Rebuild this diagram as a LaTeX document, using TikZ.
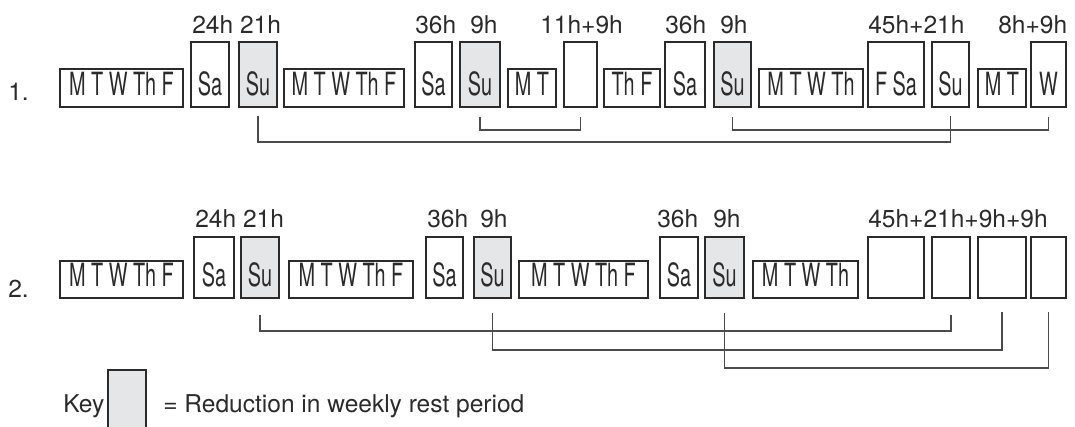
\documentclass[tikz,border=0pt]{standalone}
\usepackage{fontspec}
\setmainfont{TeX Gyre Heros}
\newfontfamily\condfont{TeX Gyre Heros}[FakeStretch=0.62]
\usetikzlibrary{calc}
\definecolor{reduced}{HTML}{E5E6E8}
\definecolor{ink}{HTML}{2B2B2B}

% one day block: name, left, right, top, bottom, style, text
\newcommand\dbox[7]{%
  \node[#6, minimum width={(#3-#2)*0.75pt}, minimum height={(#5-#4)*0.75pt},
        anchor=north west] (#1) at (#2,#4) {};
  \node[daytext] (#1t) at ($(#1.south)+(0,-12)$) {#7};
}

\begin{document}
\begin{tikzpicture}[x=0.75pt,y=-0.75pt,
  daybox/.style={draw=ink, line width=0.8pt, inner sep=0pt, outer sep=0pt},
  reducedbox/.style={daybox, fill=reduced},
  daytext/.style={font=\condfont\fontsize{24}{27}\selectfont, inner sep=0pt,
                  anchor=base, text=ink},
  hours/.style={font=\fontsize{18.4}{22}\selectfont, inner sep=0pt,
                anchor=base west, text=ink},
  bracket/.style={draw=ink!85, line width=0.9pt},
]
\useasboundingbox (0,0) rectangle (1075,426);

% ---------- schedule 1 ----------
\node[hours] (n1) at (8,100) {1.};
\dbox{a1}{60}{183}{69}{107}{daybox}{M T W Th F}
\dbox{a2}{191}{229}{42}{107}{daybox}{Sa}
\dbox{a3}{239}{277}{42}{107}{reducedbox}{Su}
\dbox{a4}{284}{404}{69}{107}{daybox}{M T W Th F}
\dbox{a5}{415}{452}{42}{107}{daybox}{Sa}
\dbox{a6}{460}{500}{42}{107}{reducedbox}{Su}
\dbox{a7}{508}{556}{69}{107}{daybox}{M T}
\dbox{a8}{564}{597}{42}{107}{daybox}{}
\dbox{a9}{604}{660}{69}{107}{daybox}{Th F}
\dbox{a10}{665}{705}{42}{107}{daybox}{Sa}
\dbox{a11}{714}{751}{42}{107}{reducedbox}{Su}
\dbox{a12}{759}{863}{69}{107}{daybox}{M T W Th}
\dbox{a13}{868}{924}{42}{107}{daybox}{F Sa}
\dbox{a14}{932}{969}{42}{107}{daybox}{Su}
\dbox{a15}{978}{1026}{69}{107}{daybox}{M T}
\dbox{a16}{1031}{1066}{42}{107}{daybox}{W}

\node[hours] (ha1) at (192,33) {24h 21h};
\node[hours] (ha2) at (415,33) {36h};
\node[hours] (ha3) at (470,33) {9h};
\node[hours] (ha4) at (540,33) {11h+9h};
\node[hours] (ha5) at (665,33) {36h};
\node[hours] (ha6) at (720,33) {9h};
\node[hours] (ha7) at (868,33) {45h+21h};
\node[hours] (ha8) at (998,33) {8h+9h};

\draw[bracket] ($(a3.south)+(0,9)$) |- ($(a14.south)+(0,35)$) -- ($(a14.south)+(0,9)$);
\draw[bracket] ($(a6.south)+(0,10)$) |- ($(a8.south)+(0,23)$) -- ($(a8.south)+(0,10)$);
\draw[bracket] ($(a11.south)+(0,10)$) |- ($(a16.south)+(0,23)$) -- ($(a16.south)+(0,10)$);

% ---------- schedule 2 ----------
\node[hours] (n2) at (8,297) {2.};
\dbox{b1}{60}{183}{261}{298}{daybox}{M T W Th F}
\dbox{b2}{194}{234}{237}{298}{daybox}{Sa}
\dbox{b3}{241}{279}{237}{298}{reducedbox}{Su}
\dbox{b4}{289}{413}{261}{298}{daybox}{M T W Th F}
\dbox{b5}{426}{463}{237}{298}{daybox}{Sa}
\dbox{b6}{474}{511}{237}{298}{reducedbox}{Su}
\dbox{b7}{519}{648}{261}{298}{daybox}{M T W Th F}
\dbox{b8}{660}{698}{237}{298}{daybox}{Sa}
\dbox{b9}{705}{744}{237}{298}{reducedbox}{Su}
\dbox{b10}{753}{858}{261}{298}{daybox}{M T W Th}
\dbox{b11}{868}{924}{237}{298}{daybox}{}
\dbox{b12}{932}{970}{237}{298}{daybox}{}
\dbox{b13}{978}{1026}{237}{298}{daybox}{}
\dbox{b14}{1031}{1066}{237}{298}{daybox}{}

\node[hours] (hb1) at (195,227) {24h 21h};
\node[hours] (hb2) at (427,227) {36h};
\node[hours] (hb3) at (480,227) {9h};
\node[hours] (hb4) at (657,227) {36h};
\node[hours] (hb5) at (713,227) {9h};
\node[hours] (hb6) at (868,227) {45h+21h+9h+9h};

\draw[bracket] ($(b3.south)+(0,17)$) |- ($(b12.south)+(0,33)$) -- ($(b12.south)+(0,17)$);
\draw[bracket] ($(b6.south)+(0,15)$) |- ($(b13.south)+(0,52)$) -- ($(b13.south)+(0,14)$);
\draw[bracket] ($(b9.south)+(0,15)$) |- ($(b14.south)+(0,70)$) -- ($(b14.south)+(0,14)$);

% ---------- key ----------
\node[hours] (keyword) at (63,412) {Key};
\node[reducedbox, minimum width={38*0.75pt}, minimum height={70*0.75pt},
      anchor=north west] (keybox) at (108,370) {};
\node[hours] (keytext) at (163,412) {= Reduction in weekly rest period};
\end{tikzpicture}
\end{document}
